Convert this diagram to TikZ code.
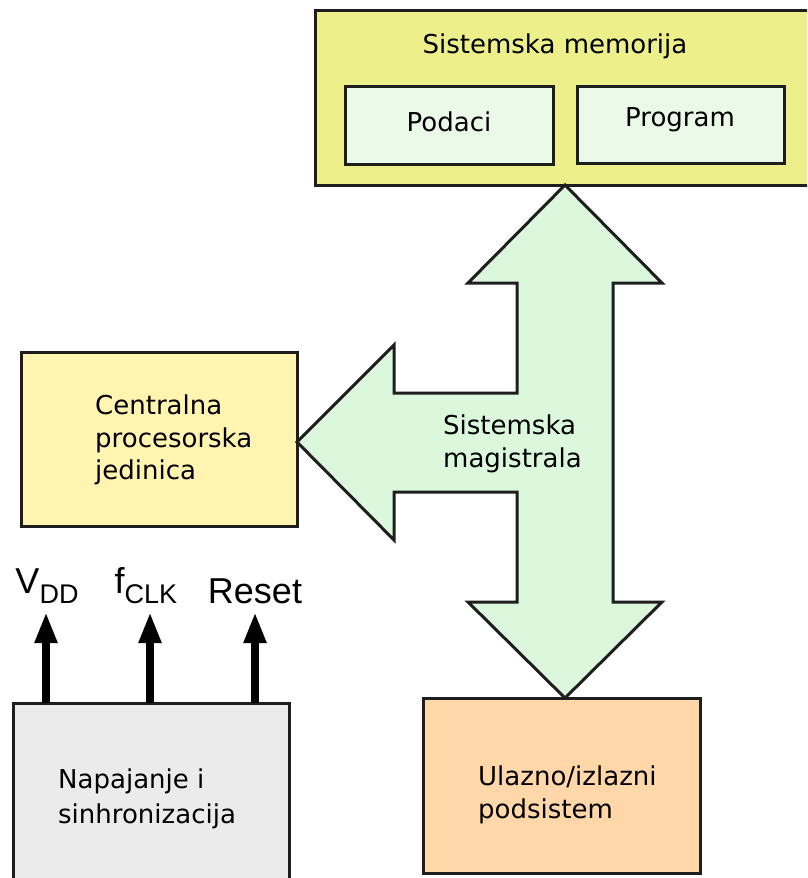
\documentclass[tikz,border=0pt]{standalone}
\usepackage{fontspec}
\setmainfont{DejaVu Sans}
\newfontfamily\labelfont{Liberation Sans}
\usetikzlibrary{arrows.meta}

\definecolor{memfill}{RGB}{237,240,138}
\definecolor{subfill}{RGB}{234,249,232}
\definecolor{busfill}{RGB}{220,248,220}
\definecolor{cpufill}{RGB}{255,244,176}
\definecolor{iofill}{RGB}{255,215,168}
\definecolor{pwrfill}{RGB}{235,235,235}
\definecolor{edge}{RGB}{30,30,30}

\tikzset{
  block/.style={draw=edge, line width=3pt, inner sep=0pt},
  boxtext/.style={font=\fontsize{26}{32.5}\selectfont, align=left, inner sep=0pt},
  sig/.style={line width=8pt, draw=black,
    -{Triangle[width=21pt,length=31pt]}},
  lbl/.style={font=\labelfont\fontsize{36}{36}\selectfont, inner sep=0pt, anchor=base}
}

\begin{document}
\begin{tikzpicture}[x=1pt,y=-1pt]
\useasboundingbox (0,0) rectangle (807,878);
\clip (0,0) rectangle (807,878);

% system memory with its two parts
\path[block, fill=memfill] (315,10) rectangle (812,185);
\node[boxtext] (memtxt) at (555,46) {Sistemska memorija};
\path[block, fill=subfill] (345,86) rectangle (553,164);
\node[boxtext] (podaci) at (449,122) {Podaci};
\path[block, fill=subfill] (577,86) rectangle (784,163);
\node[boxtext] (program) at (680,120) {Program};

% central processing unit
\path[block, fill=cpufill] (21,352) rectangle (297,526);
\node[boxtext, anchor=north west] (cpu) at (95,395)
  {Centralna\\procesorska\\jedinica};

% input/output subsystem
\path[block, fill=iofill] (423,698) rectangle (700,873);
\node[boxtext, anchor=north west] (io) at (478,766)
  {Ulazno/izlazni\\podsistem};

% power supply and clock
\path[block, fill=pwrfill] (13,703) rectangle (289,884);
\node[boxtext, anchor=north west, font=\fontsize{26}{35}\selectfont] (pwr) at (58,769)
  {Napajanje i\\sinhronizacija};

% system bus: three-headed block arrow
\path[block, fill=busfill, line join=miter]
  (565,185) -- (662,283) -- (613,283) -- (613,602) -- (662,602)
  -- (565,698) -- (468,602) -- (517,602) -- (517,492) -- (394,492)
  -- (394,540) -- (297,442) -- (394,345) -- (394,393) -- (517,393)
  -- (517,283) -- (468,283) -- cycle;
\node[boxtext, anchor=north west] (bus) at (443,415)
  {Sistemska\\magistrala};

% output signals
\node[lbl] (vdd) at (47,593)
  {V\raisebox{-10pt}{\fontsize{27}{27}\selectfont DD}};
\node[lbl] (fclk) at (146,593)
  {f\raisebox{-10pt}{\fontsize{27}{27}\selectfont CLK}};
\node[lbl] (reset) at (255,603) {Reset};

\coordinate (s1) at (46,703);
\coordinate (s2) at (150,703);
\coordinate (s3) at (255,703);
\coordinate (t1) at (46,612);
\coordinate (t2) at (150,612);
\coordinate (t3) at (255,612);
\draw[sig] (s1) -- (t1);
\draw[sig] (s2) -- (t2);
\draw[sig] (s3) -- (t3);
\end{tikzpicture}
\end{document}
